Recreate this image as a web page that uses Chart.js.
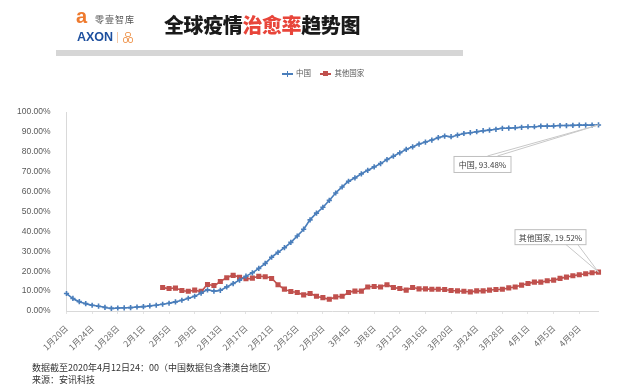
<!DOCTYPE html>
<html>
<head>
<meta charset="utf-8">
<script src="https://cdn.jsdelivr.net/npm/chart.js@4.4.1/dist/chart.umd.min.js"></script>
<style>
  body { margin: 0; background: #fff; }
  #wrap { position: relative; width: 640px; height: 390px; overflow: hidden; font-family: "Noto Sans CJK SC", sans-serif; }
  #grafico { position: absolute; left: 0; top: 0; }
  .abs { position: absolute; white-space: nowrap; }
  #logoA { left: 76px; top: 5px; font: bold 20px "Liberation Sans", sans-serif; color: #ee7a2e; }
  #logoTxt { left: 95px; top: 13px; font-size: 9px; color: #555; letter-spacing: 1px; }
  #axon { left: 77px; top: 30px; font: bold 12.5px "Liberation Sans", sans-serif; color: #1d4f9e; }
  #sep { left: 117px; top: 32px; width: 1px; height: 11px; background: #f3c9a8; }
  #icone { left: 123px; top: 32px; width: 10px; height: 11px; }
  #icone span { position: absolute; border: 1.3px solid #f0a060; border-radius: 2px; box-sizing: border-box; }
  #titulo { left: 164px; top: 10px; font-size: 20px; font-weight: 900; color: #1a1a1a; letter-spacing: -0.4px; }
  #titulo b { color: #e8453a; font-weight: 900; }
  #barra { left: 56px; top: 50px; width: 407px; height: 6px; background: #d6d6d6; }
  #legenda { left: 282px; top: 67px; font-size: 7.5px; color: #595959; }
  .leg { display: inline-block; vertical-align: middle; margin-right: 3px; position: relative; width: 11px; height: 7px; }
  .leg i { position: absolute; left: 0; top: 3px; width: 11px; height: 1.3px; }
  .leg em { position: absolute; }
  #rodape1 { left: 32px; top: 361px; font-size: 9px; color: #333; }
  #rodape2 { left: 32px; top: 373px; font-size: 9px; color: #333; }
</style>
</head>
<body>
<div id="wrap">
  <canvas id="grafico" width="640" height="390"></canvas>
  <div class="abs" id="logoA">a</div>
  <div class="abs" id="logoTxt">零壹智库</div>
  <div class="abs" id="axon">AXON</div>
  <div class="abs" id="sep"></div>
  <div class="abs" id="icone">
    <span style="left:2px;top:0;width:6px;height:5px"></span>
    <span style="left:0;top:5px;width:5px;height:6px"></span>
    <span style="left:5px;top:5px;width:5px;height:6px"></span>
  </div>
  <div class="abs" id="titulo">全球疫情<b>治愈率</b>趋势图</div>
  <div class="abs" id="barra"></div>
  <div class="abs" id="legenda">
    <span class="leg"><i style="background:#4a7ebb"></i><em style="left:5px;top:0.5px;width:1.3px;height:6px;background:#4a7ebb"></em></span>中国
    <span style="display:inline-block;width:6px"></span>
    <span class="leg"><i style="background:#c0504d"></i><em style="left:3px;top:1px;width:5px;height:5px;background:#c0504d"></em></span>其他国家
  </div>
  <div class="abs" id="rodape1">数据截至2020年4月12日24：00（中国数据包含港澳台地区）</div>
  <div class="abs" id="rodape2">来源：安讯科技</div>
</div>

<script>
// datas (1月20日 ~ 4月12日)
var datas = [
  '1月20日','1月21日','1月22日','1月23日','1月24日','1月25日','1月26日','1月27日','1月28日','1月29日','1月30日','1月31日',
  '2月1日','2月2日','2月3日','2月4日','2月5日','2月6日','2月7日','2月8日','2月9日','2月10日','2月11日','2月12日','2月13日','2月14日',
  '2月15日','2月16日','2月17日','2月18日','2月19日','2月20日','2月21日','2月22日','2月23日','2月24日','2月25日','2月26日','2月27日','2月28日','2月29日',
  '3月1日','3月2日','3月3日','3月4日','3月5日','3月6日','3月7日','3月8日','3月9日','3月10日','3月11日','3月12日','3月13日','3月14日','3月15日',
  '3月16日','3月17日','3月18日','3月19日','3月20日','3月21日','3月22日','3月23日','3月24日','3月25日','3月26日','3月27日','3月28日','3月29日','3月30日','3月31日',
  '4月1日','4月2日','4月3日','4月4日','4月5日','4月6日','4月7日','4月8日','4月9日','4月10日','4月11日','4月12日'
]

// rotulos mostrados no eixo x
var rotulosX = ['1月20日','1月24日','1月28日','2月1日','2月5日','2月9日','2月13日','2月17日','2月21日','2月25日','2月29日',
  '3月4日','3月8日','3月12日','3月16日','3月20日','3月24日','3月28日','4月1日','4月5日','4月9日']

// eixo y
var rotulosY = [0, 10, 20, 30, 40, 50, 60, 70, 80, 90, 100]

// 中国 (%)
var valoresChina = [
  8.8, 6.3, 4.7, 3.7, 2.9, 2.4, 1.8, 1.3, 1.5, 1.6, 1.7, 2.0, 2.2, 2.6, 2.9, 3.4,
  3.9, 4.6, 5.4, 6.4, 7.4, 9.0, 10.6, 10.0, 10.4, 12.1, 13.8, 15.5, 17.5, 19.2,
  21.4, 23.9, 27.0, 29.5, 31.8, 34.5, 37.7, 41.1, 45.8, 49.2,
  52.1, 55.6, 59.3, 62.3, 65.2, 66.9, 68.9, 70.7, 72.4, 74.1,
  76.1, 77.8, 79.5, 81.2, 82.5, 83.9, 84.9, 85.9, 87.1, 87.9,
  87.6, 88.4, 89.2, 89.6, 90.1, 90.6, 90.9, 91.3, 91.8, 91.9,
  92.1, 92.3, 92.6, 92.6, 92.9, 92.9, 93.0, 93.2, 93.2, 93.3,
  93.4, 93.4, 93.4, 93.48
]

// 其他国家 (%), sem dados antes de 2月4日
var valoresOutros = [
  null, null, null, null, null, null, null, null, null, null, null, null, null, null, null,
  11.8, 11.3, 11.5, 10.3, 9.9, 10.5, 9.9, 13.3, 12.8, 14.8, 16.7, 17.9, 16.9, 16.2, 16.5,
  17.4, 17.2, 16.3, 13.2, 11.0, 9.8, 9.3, 8.1, 8.8, 7.4,
  6.7, 5.9, 7.1, 7.4, 9.3, 10.0, 10.0, 12.1, 12.3, 12.1,
  13.2, 11.8, 11.3, 10.5, 11.8, 11.1, 11.1, 10.9, 10.9, 10.8,
  10.3, 10.1, 9.9, 9.6, 10.1, 10.1, 10.5, 10.8, 10.9, 11.6,
  12.1, 13.0, 13.8, 14.5, 14.5, 15.2, 15.5, 16.4, 17.0, 17.7,
  18.2, 18.7, 19.2, 19.52
]

var corChina = '#4a7ebb'
var corOutros = '#c0504d'
var fonteNum = '"Liberation Sans", sans-serif'
var fonteCJK = '"Noto Sans CJK SC", sans-serif'

// caixas de rotulo do ultimo ponto (deslocamento relativo ao ponto)
var caixas = [
  { serie: 0, nome: '中国', dx: -145, dy: 31, w: 57, h: 16, la: -111, lb: -101, topo: true },
  { serie: 1, nome: '其他国家', dx: -84, dy: -43, w: 71, h: 15, la: -33, lb: -21, topo: false }
]

var pluginRotulos = {
  id: 'rotulos',
  afterDatasetsDraw(chart) {
    var ctx = chart.ctx
    caixas.forEach(function (c) {
      var meta = chart.getDatasetMeta(c.serie)
      var p = meta.data[meta.data.length - 1]
      var valor = chart.data.datasets[c.serie].data[meta.data.length - 1]
      var bx = p.x + c.dx, by = p.y + c.dy
      var ly = c.topo ? by : by + c.h
      ctx.save()
      ctx.strokeStyle = '#c8c8c8'
      ctx.lineWidth = 1
      ctx.beginPath()
      ctx.moveTo(p.x + c.la, ly)
      ctx.lineTo(p.x, p.y)
      ctx.lineTo(p.x + c.lb, ly)
      ctx.stroke()
      ctx.fillStyle = '#fff'
      ctx.fillRect(bx, by, c.w, c.h)
      ctx.strokeStyle = '#bfbfbf'
      ctx.strokeRect(bx + 0.5, by + 0.5, c.w, c.h)
      ctx.fillStyle = '#404040'
      ctx.font = '8px ' + fonteCJK
      ctx.textAlign = 'center'
      ctx.textBaseline = 'middle'
      ctx.fillText(c.nome + ', ' + valor.toFixed(2) + '%', bx + c.w / 2 + 0.5, by + c.h / 2 + 1)
      ctx.restore()
    })
  }
}

new Chart(document.getElementById('grafico'), {
  type: 'line',
  data: {
    labels: datas,
    datasets: [{
      label: '中国',
      data: valoresChina,
      borderColor: corChina,
      backgroundColor: corChina,
      borderWidth: 1.6,
      pointStyle: 'cross',
      pointRadius: 2.6,
      pointBorderWidth: 1.6,
      tension: 0.3
    }, {
      label: '其他国家',
      data: valoresOutros,
      borderColor: corOutros,
      backgroundColor: corOutros,
      borderWidth: 1.6,
      pointStyle: 'rect',
      pointRadius: 3.6,
      pointBorderWidth: 0,
      tension: 0.3,
      spanGaps: false
    }]
  },
  options: {
    responsive: false,
    animation: false,
    layout: { padding: { left: 0, right: 41.5, top: 112, bottom: 0 } },
    plugins: {
      legend: { display: false },
      tooltip: { enabled: false }
    },
    scales: {
      x: {
        offset: false,
        afterFit: function (s) { s.height = 79 },
        grid: { display: true, drawOnChartArea: false, drawTicks: true, tickLength: 3, color: '#e3e3e3' },
        border: { display: true, color: '#d9d9d9' },
        ticks: {
          autoSkip: false,
          minRotation: 45,
          maxRotation: 45,
          padding: 9,
          color: '#6b6b6b',
          font: { family: fonteCJK, size: 8.5 },
          callback: function (v, i) {
            var rotulo = this.getLabelForValue(v)
            return rotulosX.indexOf(rotulo) >= 0 ? rotulo : null
          }
        }
      },
      y: {
        min: rotulosY[0],
        max: rotulosY[rotulosY.length - 1],
        afterFit: function (s) { s.width = 66.5 },
        grid: { display: false },
        border: { display: true, color: '#d9d9d9' },
        afterBuildTicks: function (s) { s.ticks = rotulosY.map(function (v) { return { value: v } }) },
        ticks: {
          padding: 8,
          color: '#595959',
          font: { family: fonteNum, size: 8.5 },
          callback: function (v) { return v.toFixed(2) + '%' }
        }
      }
    }
  },
  plugins: [pluginRotulos]
})
</script>
</body>
</html>
